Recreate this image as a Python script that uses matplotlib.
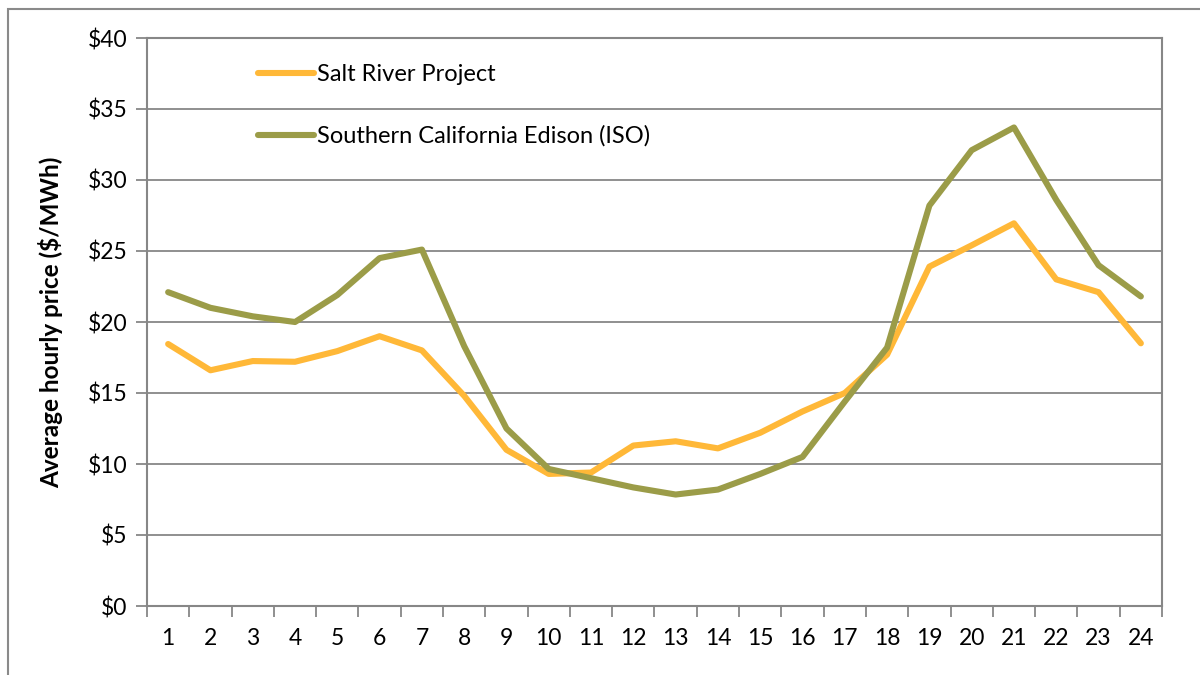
import matplotlib
matplotlib.use("Agg")
import matplotlib.pyplot as plt
from matplotlib.ticker import FuncFormatter, FixedLocator

# hour of day
hours = list(range(1, 25))

# average hourly price ($/MWh)
salt_river = [18.45, 16.6, 17.25, 17.2, 17.95, 19.0, 18.0, 14.8, 11.0, 9.3,
              9.4, 11.3, 11.6, 11.1, 12.2, 13.7, 15.0, 17.7, 23.9, 25.4,
              26.95, 23.0, 22.1, 18.5]
sce = [22.1, 21.0, 20.4, 20.0, 21.9, 24.5, 25.1, 18.3, 12.5, 9.65,
       9.0, 8.35, 7.85, 8.2, 9.3, 10.5, 14.4, 18.2, 28.2, 32.1,
       33.7, 28.6, 24.0, 21.8]

plt.rcParams['font.family'] = ['Lato', 'DejaVu Sans']

fig = plt.figure(figsize=(12, 6.75), dpi=100)
ax = fig.add_axes([147 / 1200, 1 - 606 / 675, 1015 / 1200, 568 / 675])

grey = '#878787'

ax.plot(hours, salt_river, color='#FFB838', lw=4.4, solid_capstyle='round',
        solid_joinstyle='round', label='Salt River Project', zorder=3)
ax.plot(hours, sce, color='#9B9C48', lw=4.4, solid_capstyle='round',
        solid_joinstyle='round', label='Southern California Edison (ISO)', zorder=3)

ax.set_xlim(0.5, 24.5)
ax.set_ylim(0, 40)
ax.set_yticks(range(0, 41, 5))
ax.yaxis.set_major_formatter(FuncFormatter(lambda v, p: f'${v:.0f}'))
ax.yaxis.grid(True, color=grey, lw=1.3)
ax.set_axisbelow(True)

# x ticks between categories, labels centred on categories
ax.xaxis.set_major_locator(FixedLocator([h + 0.5 for h in range(0, 25)]))
ax.xaxis.set_minor_locator(FixedLocator(hours))
ax.set_xticklabels([])
ax.set_xticklabels([str(h) for h in hours], minor=True)
ax.tick_params(axis='x', which='major', length=8, width=1.3, color=grey, direction='out')
ax.tick_params(axis='x', which='minor', length=0, pad=16, labelsize=16.5)
ax.tick_params(axis='y', length=8, width=1.3, color=grey, direction='out', labelsize=16.5, pad=6)

for s in ax.spines.values():
    s.set_color(grey)
    s.set_linewidth(1.5)

ax.set_ylabel('Average hourly price ($/MWh)', fontsize=17.5, fontweight='bold', labelpad=18)

leg = ax.legend(loc='upper left', bbox_to_anchor=(0.088, 0.992), frameon=False,
                fontsize=17, handlelength=2.4, handletextpad=0.12, labelspacing=1.72)

# outer chart border
fig.patches.append(plt.Rectangle((8 / 1200, -0.1), 1.2, 1 - 9 / 675 + 0.1,
                                 transform=fig.transFigure, fill=False,
                                 edgecolor='#8a8a8a', lw=1.5))

fig.savefig('out.png', dpi=100)
